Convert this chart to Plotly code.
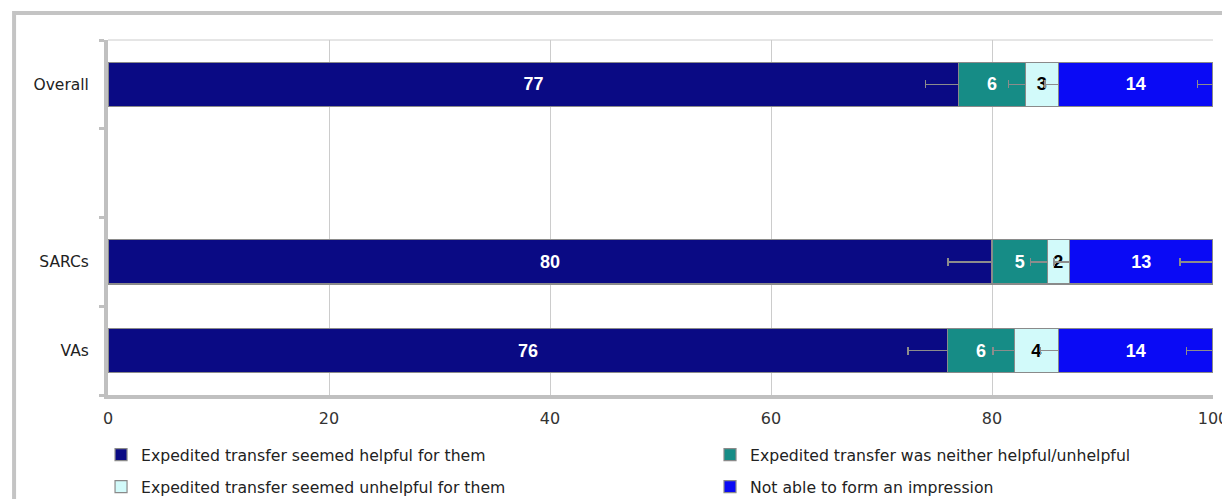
import plotly.graph_objects as go

categories = ["Overall", "SARCs", "VAs"]
cat_pos = [3, 1, 0]  # empty slot at 2

series_names = [
    "Expedited transfer seemed helpful for them",
    "Expedited transfer was neither helpful/unhelpful",
    "Expedited transfer seemed unhelpful for them",
    "Not able to form an impression",
]
helpful = [77, 80, 76]
neither = [6, 5, 6]
unhelpful = [3, 2, 4]
not_able = [14, 13, 14]

err_helpful = [3.0, 4.0, 3.6]
err_neither = [1.5, 1.5, 1.9]
err_unhelpful = [1.2, 1.4, 1.6]
err_not_able = [1.4, 3.0, 2.4]

colors = ["#0a0a84", "#168c86", "#d2fafa", "#0a0af5"]
text_colors = ["white", "white", "black", "white"]
values = [helpful, neither, unhelpful, not_able]
errors = [err_helpful, err_neither, err_unhelpful, err_not_able]
legend_ids = ["legend", "legend2", "legend3", "legend4"]

fig = go.Figure()
for name, vals, errs, col, tcol, lg in zip(series_names, values, errors, colors, text_colors, legend_ids):
    fig.add_trace(go.Bar(
        y=cat_pos, x=vals, orientation="h", name=name,
        marker=dict(color=col, line=dict(color="#8a8a8a", width=1.2)),
        width=0.5,
        text=[str(v) for v in vals], textposition="inside", insidetextanchor="middle",
        textangle=0, constraintext="none",
        textfont=dict(family="Liberation Sans, Arial", size=18, color=tcol, weight="bold"),
        error_x=dict(type="data", array=errs, visible=True, color="#8c8c8c", thickness=1.5, width=4),
        legend=lg,
    ))

legend_font = dict(family="DejaVu Sans", size=15.7, color="#222222")
col_x = [-0.0063, 0.5448]
row_y = [-0.169, -0.259]
legend_pos = [(col_x[0], row_y[0]), (col_x[1], row_y[0]), (col_x[0], row_y[1]), (col_x[1], row_y[1])]

legend_layouts = {}
for lg, (lx, ly) in zip(legend_ids, legend_pos):
    legend_layouts[lg] = dict(orientation="h", x=lx, y=ly, xanchor="left", yanchor="middle",
                              itemwidth=30, font=legend_font, bgcolor="rgba(0,0,0,0)")

fig.update_layout(
    barmode="stack",
    width=1222, height=491,
    margin=dict(l=100, r=17, t=32, b=104, autoexpand=False),
    paper_bgcolor="white", plot_bgcolor="white",
    font=dict(family="DejaVu Sans", color="#222222"),
    uniformtext=dict(minsize=18, mode="show"),
    xaxis=dict(range=[0, 100], tickvals=[0, 20, 40, 60, 80, 100],
               showgrid=True, gridcolor="#cccccc", gridwidth=1,
               showline=True, linecolor="#c0c0c0", linewidth=4,
               ticks="outside", ticklen=6, tickcolor="white",
               tickfont=dict(size=16, color="#333333"), zeroline=False),
    yaxis=dict(range=[-0.5, 3.5], tickvals=cat_pos, ticktext=categories,
               showgrid=False, zeroline=False,
               showline=True, linecolor="#c0c0c0", linewidth=4,
               ticks="", ticklabelstandoff=12,
               tickfont=dict(size=15.5, color="#222222"),
               minor=dict(tick0=0.5, dtick=1, ticks="outside", ticklen=5,
                          tickcolor="#c0c0c0", tickwidth=3)),
    showlegend=True,
    shapes=[
        dict(type="rect", xref="paper", yref="paper", x0=-0.085, x1=1.2, y0=-0.5, y1=1.076,
             line=dict(color="#c4c4c4", width=4), fillcolor="rgba(0,0,0,0)", layer="below"),
        dict(type="line", xref="paper", yref="paper", x0=0, x1=1, y0=1, y1=1,
             line=dict(color="#cccccc", width=1)),
    ],
    **legend_layouts,
)

fig.write_html("out.html")
